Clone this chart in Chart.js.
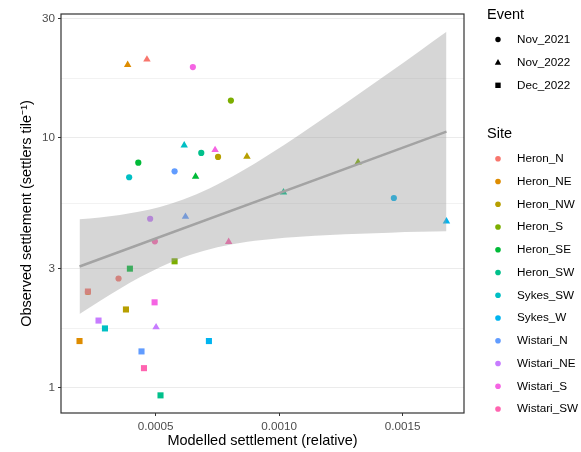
<!DOCTYPE html>
<html>
<head>
<meta charset="utf-8">
<script src="https://cdn.jsdelivr.net/npm/chart.js@4"></script>
<style>
  body { margin: 0; background: #fff; }
  #wrap { position: relative; width: 581px; height: 452px; }
</style>
</head>
<body>
<div id="wrap"><canvas id="settleChart" width="581" height="452"></canvas></div>
<script>
// sites and their colours (same order as every value list below)
const sites = ['Heron_N', 'Heron_NE', 'Heron_NW', 'Heron_S', 'Heron_SE', 'Heron_SW',
  'Sykes_SW', 'Sykes_W', 'Wistari_N', 'Wistari_NE', 'Wistari_S', 'Wistari_SW'];
const siteColours = ['#F8766D', '#DE8C00', '#B79F00', '#7CAE00', '#00BA38', '#00C08B',
  '#00BFC4', '#00B4F0', '#619CFF', '#C77CFF', '#F564E3', '#FF64B0'];
const events = ['Nov_2021', 'Nov_2022', 'Dec_2022'];

// modelled (x) and observed (y) settlement per event
const nov2021X = [0.00035, 0.000226, 0.000753, 0.000805, 0.00043, 0.000685, 0.000393, 0.001465, 0.000577, 0.000478, 0.000651, 0.000497];
const nov2021Y = [2.74, 2.42, 8.39, 14.1, 7.96, 8.71, 6.96, 5.75, 7.35, 4.75, 19.2, 3.86];
const nov2022X = [0.000465, 0.000387, 0.00087, 0.00132, 0.000662, 0.001018, 0.000616, 0.001678, 0.000621, 0.000502, 0.000741, 0.000796];
const nov2022Y = [20.6, 19.6, 8.42, 7.99, 7.0, 6.06, 9.34, 4.64, 4.84, 1.75, 8.95, 3.84];
const dec2022X = [0.000226, 0.000192, 0.00038, 0.000577, 0.000396, 0.00052, 0.000295, 0.000716, 0.000443, 0.000269, 0.000496, 0.000453];
const dec2022Y = [2.43, 1.54, 2.06, 3.21, 3.0, 0.934, 1.73, 1.54, 1.40, 1.86, 2.2, 1.20];

// fitted line and its confidence band
const fitX = [0.000192, 0.001678];
const fitY = [3.06, 10.6];
const bandX = [0.000192, 0.0002745, 0.0003555, 0.0004364, 0.0005174, 0.0006121, 0.0007198, 0.0008413,
  0.0009628, 0.0010842, 0.0012057, 0.0013271, 0.0014486, 0.00157, 0.001678];
const bandUpper = [4.73, 4.81, 4.92, 5.08, 5.29, 5.67, 6.29, 7.29, 8.63, 10.33, 12.46, 15.08, 18.3, 22.27, 26.55];
const bandLower = [1.976, 2.228, 2.494, 2.769, 3.04, 3.33, 3.59, 3.80, 3.93, 4.02, 4.09, 4.14, 4.18, 4.21, 4.23];

// axis ticks
const yMajorTicks = [1, 3, 10, 30];
const yMinorTicks = [1.73, 5.48, 17.3];
const xTicks = [0.0005, 0.0010, 0.0015];
const xTickLabels = ['0.0005', '0.0010', '0.0015'];

const FONT = '"Liberation Sans", Arial, sans-serif';

function pairs(xs, ys) {
  return xs.map((x, i) => ({ x: x, y: ys[i] }));
}

function pointSet(label, xs, ys, style, radius, order) {
  return {
    label: label,
    type: 'scatter',
    data: pairs(xs, ys),
    pointStyle: style,
    pointRadius: radius,
    pointBackgroundColor: siteColours,
    pointBorderWidth: 0,
    borderWidth: 0,
    order: order
  };
}

// draws the panel border, axis titles and the two legends
const decorations = {
  id: 'decorations',
  afterDraw(chart) {
    const ctx = chart.ctx;
    const a = chart.chartArea;
    ctx.save();
    ctx.strokeStyle = '#333333';
    ctx.lineWidth = 1.2;
    ctx.strokeRect(a.left, a.top, a.right - a.left, a.bottom - a.top);

    ctx.fillStyle = '#000';
    ctx.font = '14.5px ' + FONT;
    ctx.textAlign = 'center';
    ctx.textBaseline = 'middle';
    ctx.fillText('Modelled settlement (relative)', (a.left + a.right) / 2, 441);
    ctx.save();
    ctx.translate(27, (a.top + a.bottom) / 2);
    ctx.rotate(-Math.PI / 2);
    ctx.fillText('Observed settlement (settlers tile\u207B\u00B9)', 0, 0);
    ctx.restore();

    // legends
    const symX = 498, textX = 517;
    ctx.textAlign = 'left';
    ctx.font = '14.5px ' + FONT;
    ctx.fillText('Event', 487, 15);
    ctx.fillText('Site', 487, 134);
    ctx.font = '11.7px ' + FONT;
    const styles = ['circle', 'triangle', 'rect'];
    events.forEach((ev, i) => {
      const y = 39.5 + i * 22.9;
      ctx.fillStyle = '#000';
      ctx.beginPath();
      if (styles[i] === 'circle') {
        ctx.arc(symX, y, 2.7, 0, Math.PI * 2);
      } else if (styles[i] === 'triangle') {
        ctx.moveTo(symX, y - 3.4);
        ctx.lineTo(symX + 3.2, y + 2.4);
        ctx.lineTo(symX - 3.2, y + 2.4);
        ctx.closePath();
      } else {
        ctx.rect(symX - 2.7, y - 2.7, 5.4, 5.4);
      }
      ctx.fill();
      ctx.fillText(ev, textX, y);
    });
    sites.forEach((s, i) => {
      const y = 158.8 + i * 22.75;
      ctx.fillStyle = siteColours[i];
      ctx.beginPath();
      ctx.arc(symX, y, 2.8, 0, Math.PI * 2);
      ctx.fill();
      ctx.fillStyle = '#000';
      ctx.fillText(s, textX, y);
    });
    ctx.restore();
  }
};

const ctx = document.getElementById('settleChart').getContext('2d');
const settleChart = new Chart(ctx, {
  type: 'scatter',
  data: {
    datasets: [
      {
        label: 'fit',
        type: 'line',
        data: pairs(fitX, fitY),
        borderColor: '#A3A3A3',
        borderWidth: 2.4,
        pointRadius: 0,
        fill: false,
        order: 0
      },
      {
        label: 'upper',
        type: 'line',
        data: pairs(bandX, bandUpper),
        borderWidth: 0,
        borderColor: 'rgba(0,0,0,0)',
        backgroundColor: 'rgba(153,153,153,0.4)',
        pointRadius: 0,
        cubicInterpolationMode: 'monotone',
        fill: '+1',
        order: 1
      },
      {
        label: 'lower',
        type: 'line',
        data: pairs(bandX, bandLower),
        borderWidth: 0,
        borderColor: 'rgba(0,0,0,0)',
        pointRadius: 0,
        cubicInterpolationMode: 'monotone',
        fill: false,
        order: 2
      },
      pointSet('Dec_2022', dec2022X, dec2022Y, 'rect', 4.3, 3),
      pointSet('Nov_2022', nov2022X, nov2022Y, 'triangle', 4.3, 4),
      pointSet('Nov_2021', nov2021X, nov2021Y, 'circle', 3.1, 5)
    ]
  },
  options: {
    responsive: false,
    animation: false,
    layout: { padding: { left: 0, top: 14, right: 117, bottom: 0 } },
    plugins: {
      legend: { display: false },
      tooltip: { enabled: false }
    },
    scales: {
      x: {
        type: 'linear',
        min: 0.000117,
        max: 0.001749,
        afterFit(scale) { scale.height = 39; },
        afterBuildTicks(scale) { scale.ticks = xTicks.map(v => ({ value: v })); },
        border: { display: false },
        grid: { drawOnChartArea: false, drawTicks: true, tickLength: 3, tickColor: '#333333' },
        ticks: {
          padding: 4,
          color: '#4D4D4D',
          font: { family: FONT, size: 11.7 },
          callback: (v) => xTickLabels[xTicks.indexOf(v)] || ''
        }
      },
      y: {
        type: 'logarithmic',
        min: 0.794,
        max: 31.3,
        afterFit(scale) { scale.width = 61; },
        afterBuildTicks(scale) {
          scale.ticks = yMajorTicks.concat(yMinorTicks).sort((p, q) => p - q).map(v => ({ value: v }));
        },
        border: { display: false },
        grid: {
          drawTicks: true,
          tickLength: 3,
          lineWidth: 1,
          color: (c) => yMajorTicks.includes(c.tick && c.tick.value) ? '#EBEBEB' : '#F2F2F2',
          tickColor: (c) => yMajorTicks.includes(c.tick && c.tick.value) ? '#333333' : 'rgba(0,0,0,0)'
        },
        ticks: {
          padding: 3,
          color: '#4D4D4D',
          font: { family: FONT, size: 11.7 },
          autoSkip: false,
          callback: (v) => yMajorTicks.includes(v) ? String(v) : ''
        }
      }
    }
  },
  plugins: [decorations]
});
</script>
</body>
</html>
